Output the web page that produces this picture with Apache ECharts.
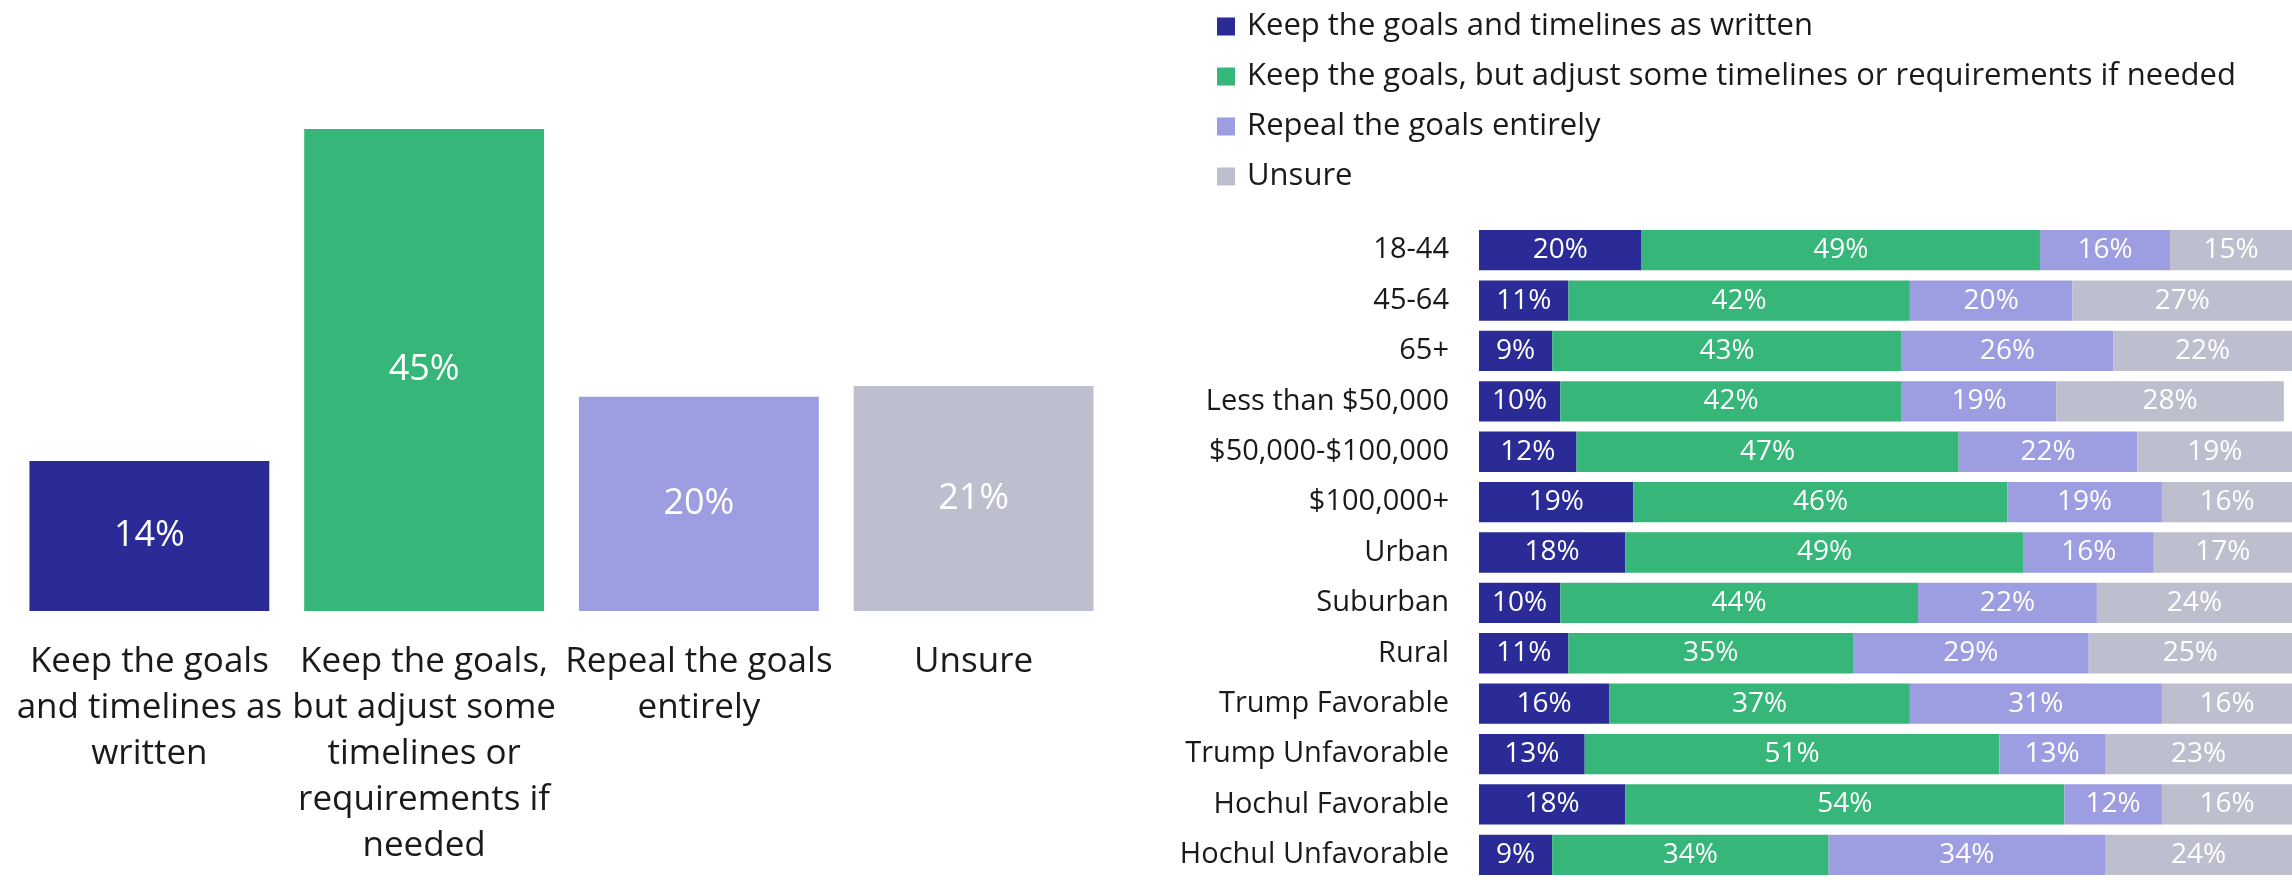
<!DOCTYPE html>
<html>
<head>
<meta charset="utf-8">
<script src="https://cdn.jsdelivr.net/npm/echarts@6/dist/echarts.min.js"></script>
<style>
  html, body { margin: 0; padding: 0; background: #fff; }
  #chart { width: 2292px; height: 880px; }
</style>
</head>
<body>
<div id="chart"></div>
<script>
// overall answers (left chart)
const overallLabels = [
  'Keep the goals\nand timelines as\nwritten',
  'Keep the goals,\nbut adjust some\ntimelines or\nrequirements if\nneeded',
  'Repeal the goals\nentirely',
  'Unsure'
]
const overallValues = [14, 45, 20, 21]

// breakdown by group (right chart)
const groups = [
  '18-44', '45-64', '65+', 'Less than $50,000', '$50,000-$100,000', '$100,000+',
  'Urban', 'Suburban', 'Rural', 'Trump Favorable', 'Trump Unfavorable',
  'Hochul Favorable', 'Hochul Unfavorable'
]
const seriesNames = [
  'Keep the goals and timelines as written',
  'Keep the goals, but adjust some timelines or requirements if needed',
  'Repeal the goals entirely',
  'Unsure'
]
const keepAsWritten = [20, 11, 9, 10, 12, 19, 18, 10, 11, 16, 13, 18, 9]
const keepAdjust = [49, 42, 43, 42, 47, 46, 49, 44, 35, 37, 51, 54, 34]
const repeal = [16, 20, 26, 19, 22, 19, 16, 22, 29, 31, 13, 12, 34]
const unsure = [15, 27, 22, 28, 19, 16, 17, 24, 25, 16, 23, 16, 24]

const colors = ['#2b2b97', '#36b679', '#9d9de2', '#bebfce']
const fontFamily = '"Open Sans", Roboto, sans-serif'

const chart = echarts.init(document.getElementById('chart'))

const stackSeries = [keepAsWritten, keepAdjust, repeal, unsure].map((vals, i) => ({
  name: seriesNames[i],
  type: 'bar',
  stack: 'total',
  xAxisIndex: 1,
  yAxisIndex: 1,
  barCategoryGap: '20%',
  color: colors[i],
  data: vals,
  label: {
    show: true,
    position: 'inside',
    formatter: '{c}%',
    color: '#fff',
    fontFamily: fontFamily,
    fontSize: 28
  }
}))

const option = {
  animation: false,
  textStyle: { fontFamily: fontFamily },
  legend: {
    orient: 'vertical',
    left: 1217,
    top: 11,
    padding: 0,
    itemWidth: 18,
    itemHeight: 18,
    itemGap: 19,
    icon: 'rect',
    data: seriesNames,
    textStyle: {
      fontSize: 31,
      color: '#1a1a1a',
      lineHeight: 30,
      padding: [0, 0, 0, 7],
      fontFamily: fontFamily
    }
  },
  grid: [
    { left: 12, width: 1099, top: 129, bottom: 269 },
    { left: 1479, width: 820, top: 225, bottom: 0 }
  ],
  xAxis: [
    {
      gridIndex: 0,
      type: 'category',
      data: overallLabels,
      axisLine: { show: false },
      axisTick: { show: false },
      axisLabel: {
        interval: 0,
        margin: 28,
        fontSize: 35,
        lineHeight: 46,
        color: '#1a1a1a',
        fontFamily: fontFamily
      }
    },
    {
      gridIndex: 1,
      type: 'value',
      min: 0,
      max: 100,
      show: false
    }
  ],
  yAxis: [
    {
      gridIndex: 0,
      type: 'value',
      min: 0,
      max: 45,
      show: false
    },
    {
      gridIndex: 1,
      type: 'category',
      data: groups,
      inverse: true,
      axisLine: { show: false },
      axisTick: { show: false },
      axisLabel: {
        margin: 30,
        fontSize: 29,
        color: '#1a1a1a',
        fontFamily: fontFamily
      }
    }
  ],
  series: [
    {
      name: 'Overall',
      type: 'bar',
      xAxisIndex: 0,
      yAxisIndex: 0,
      barCategoryGap: '12.7%',
      data: overallValues.map((v, i) => ({ value: v, itemStyle: { color: colors[i] } })),
      label: {
        show: true,
        position: 'inside',
        formatter: '{c}%',
        color: '#fff',
        fontSize: 36,
        fontFamily: fontFamily
      }
    },
    ...stackSeries
  ]
}

chart.setOption(option)
</script>
</body>
</html>
